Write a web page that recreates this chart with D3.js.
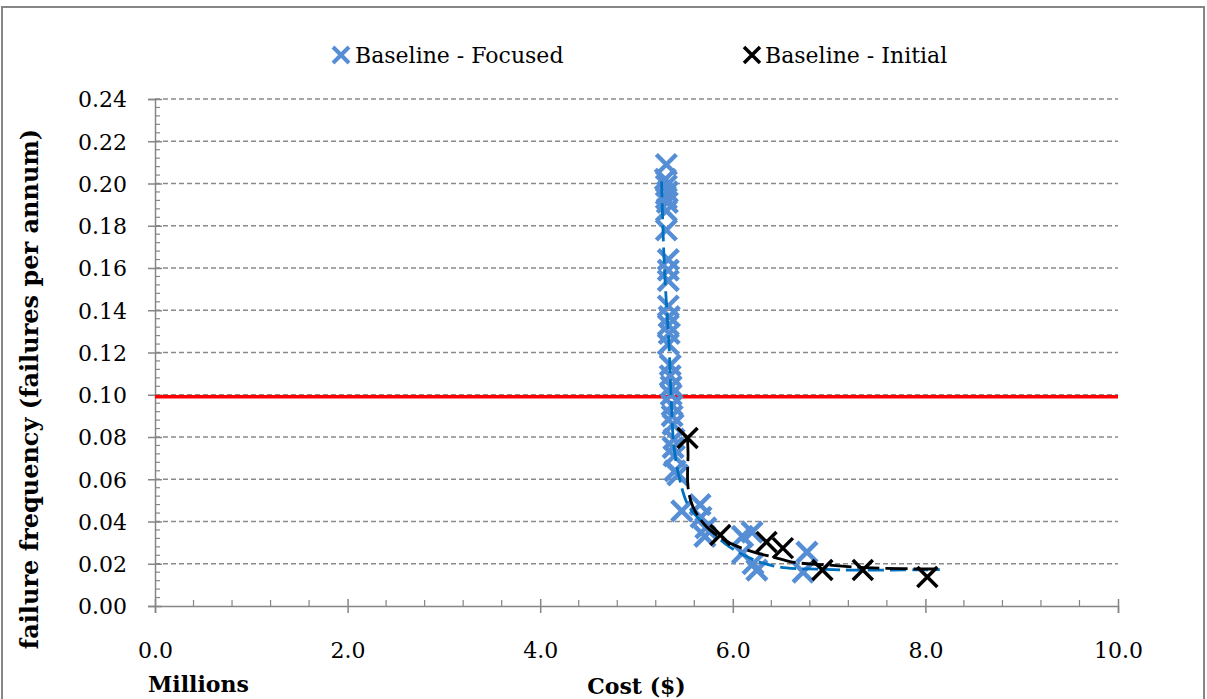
<!DOCTYPE html>
<html>
<head>
<meta charset="utf-8">
<script src="https://cdn.jsdelivr.net/npm/d3@7"></script>
<style>
  html, body { margin: 0; padding: 0; background: #fff; }
  svg { display: block; }
  text { font-family: "DejaVu Serif", "Liberation Serif", serif; fill: #000; }
</style>
</head>
<body>
<svg id="chart" width="1207" height="699"></svg>
<script>
// Cost in millions of dollars, failure frequency in failures per annum
const focusedCost = [5.31, 5.30, 5.31, 5.32, 5.31, 5.32, 5.31, 5.31, 5.33, 5.33, 5.33,
  5.33, 5.34, 5.33, 5.34, 5.33, 5.35, 5.35, 5.36, 5.36, 5.37, 5.37, 5.38, 5.39, 5.38,
  5.39, 5.40, 5.43, 5.47, 5.66, 5.67, 5.72, 5.71, 6.10, 6.20, 6.10, 6.21, 6.25, 6.77, 6.73];
const focusedFreq = [0.209, 0.202, 0.199, 0.196, 0.193, 0.191, 0.187, 0.178, 0.164, 0.159, 0.154,
  0.142, 0.137, 0.133, 0.129, 0.124, 0.114, 0.109, 0.104, 0.100, 0.095, 0.090, 0.086, 0.079, 0.075,
  0.071, 0.064, 0.062, 0.045, 0.048, 0.042, 0.037, 0.033, 0.033, 0.035, 0.025, 0.020, 0.017, 0.0255, 0.016];

const initialCost = [5.53, 5.87, 6.35, 6.52, 6.93, 7.35, 8.02];
const initialFreq = [0.0795, 0.0336, 0.0303, 0.0274, 0.0170, 0.0170, 0.0137];

// Fitted trend curves for each series
const focusedTrendCost = [5.26, 5.29, 5.34, 5.36, 5.39, 5.45, 5.535, 5.66, 5.97, 6.28, 6.56, 6.87, 7.22, 8.15];
const focusedTrendFreq = [0.201, 0.160, 0.121, 0.098, 0.075, 0.0596, 0.0478, 0.0407, 0.0279, 0.0208, 0.0180, 0.0175, 0.0170, 0.0172];
const initialTrendCost = [5.53, 5.535, 5.535, 5.587, 5.73, 5.97, 6.21, 6.42, 6.62, 6.98, 7.46, 8.15];
const initialTrendFreq = [0.079, 0.0724, 0.0563, 0.0469, 0.0374, 0.0298, 0.0256, 0.0232, 0.0208, 0.0194, 0.0180, 0.0175];

const targetFreq = 0.099;

const xTicks = [0, 2, 4, 6, 8, 10];
const yTicks = [0, 0.02, 0.04, 0.06, 0.08, 0.10, 0.12, 0.14, 0.16, 0.18, 0.20, 0.22, 0.24];

const seriesNames = ["Baseline - Focused", "Baseline - Initial"];
const xTitle = "Cost ($)";
const xUnit = "Millions";
const yTitle = "failure frequency (failures per annum)";

const svg = d3.select("#chart");
const W = 1207, H = 699;
const plotLeft = 155, plotRight = 1118, plotTop = 99, plotBottom = 606;

const x = d3.scaleLinear().domain([0, 10]).range([plotLeft, plotRight]);
const y = d3.scaleLinear().domain([0, 0.24]).range([plotBottom, plotTop]);

const gridColor = "#8a8a8a";
const axisColor = "#868686";
const blue = "#558ED5";
const trendBlue = "#0070C0";
const fontSize = 22;

// outer frame
svg.append("rect").attr("x", 2).attr("y", 7).attr("width", W - 5).attr("height", H)
  .attr("fill", "none").attr("stroke", axisColor).attr("stroke-width", 2);

// horizontal gridlines
svg.append("g").selectAll("line").data(yTicks.filter(d => d > 0)).join("line")
  .attr("x1", plotLeft).attr("x2", plotRight)
  .attr("y1", d => y(d)).attr("y2", d => y(d))
  .attr("stroke", gridColor).attr("stroke-width", 1.5).attr("stroke-dasharray", "5,3");

// y axis
const yAxis = svg.append("g").attr("transform", `translate(${plotLeft},0)`)
  .call(d3.axisLeft(y).tickValues(yTicks).tickFormat(d3.format(".2f")).tickSize(7).tickPadding(21));
yAxis.select(".domain").attr("stroke", axisColor).attr("stroke-width", 1.5);
yAxis.selectAll(".tick line").attr("stroke", axisColor).attr("stroke-width", 1.5).attr("x2", -7).attr("x1", 7);
yAxis.selectAll(".tick text").attr("font-size", fontSize).attr("font-family", "DejaVu Serif").attr("dy", "0.36em");

// y minor ticks
const yMinor = d3.range(0, 0.2401, 0.004).filter(v => Math.abs(v / 0.02 - Math.round(v / 0.02)) > 1e-6);
svg.append("g").selectAll("line").data(yMinor).join("line")
  .attr("x1", plotLeft).attr("x2", plotLeft + 5)
  .attr("y1", d => y(d)).attr("y2", d => y(d))
  .attr("stroke", axisColor).attr("stroke-width", 1.2);

// x axis
const xAxis = svg.append("g").attr("transform", `translate(0,${plotBottom})`)
  .call(d3.axisBottom(x).tickValues(xTicks).tickFormat(d3.format(".1f")).tickSize(7).tickPadding(29));
xAxis.select(".domain").attr("stroke", axisColor).attr("stroke-width", 1.5);
xAxis.selectAll(".tick line").attr("stroke", axisColor).attr("stroke-width", 1.5).attr("y1", -7).attr("y2", 7);
xAxis.selectAll(".tick text").attr("font-size", fontSize).attr("font-family", "DejaVu Serif");

// x minor ticks
const xMinor = d3.range(0, 10.001, 0.4).filter(v => Math.abs(v / 2 - Math.round(v / 2)) > 1e-6);
svg.append("g").selectAll("line").data(xMinor).join("line")
  .attr("x1", d => x(d)).attr("x2", d => x(d))
  .attr("y1", plotBottom).attr("y2", plotBottom - 6)
  .attr("stroke", axisColor).attr("stroke-width", 1.2);

// target frequency line
svg.append("line")
  .attr("x1", x(0)).attr("x2", x(10))
  .attr("y1", y(targetFreq)).attr("y2", y(targetFreq))
  .attr("stroke", "#FF0000").attr("stroke-width", 3.5);

// X-shaped marker
function cross(g, cx, cy, r, color, w) {
  g.append("path")
    .attr("d", `M${cx - r},${cy - r}L${cx + r},${cy + r}M${cx - r},${cy + r}L${cx + r},${cy - r}`)
    .attr("stroke", color).attr("stroke-width", w).attr("fill", "none");
}

const focused = focusedCost.map((c, i) => ({ c, f: focusedFreq[i] }));
const initial = initialCost.map((c, i) => ({ c, f: initialFreq[i] }));

const gBlue = svg.append("g");
focused.forEach(d => cross(gBlue, x(d.c), y(d.f), 10, blue, 4.5));

const trendLine = d3.line().x(d => x(d[0])).y(d => y(d[1])).curve(d3.curveCatmullRom);

svg.append("path")
  .datum(focusedTrendCost.map((c, i) => [c, focusedTrendFreq[i]]))
  .attr("d", trendLine)
  .attr("fill", "none").attr("stroke", trendBlue).attr("stroke-width", 2.8)
  .attr("stroke-dasharray", "16,6");

const gBlack = svg.append("g");
initial.forEach(d => cross(gBlack, x(d.c), y(d.f), 10, "#000", 3.5));

svg.append("path")
  .datum(initialTrendCost.map((c, i) => [c, initialTrendFreq[i]]))
  .attr("d", trendLine)
  .attr("fill", "none").attr("stroke", "#000").attr("stroke-width", 2.8)
  .attr("stroke-dasharray", "22,6");

// legend
const legend = svg.append("g");
const legendItems = [
  { name: seriesNames[0], color: blue, w: 4, mx: 341, tx: 355 },
  { name: seriesNames[1], color: "#000", w: 3.5, mx: 752, tx: 765 }
];
legendItems.forEach(it => {
  cross(legend, it.mx, 55, 8, it.color, it.w);
  legend.append("text").attr("x", it.tx).attr("y", 63).attr("font-size", fontSize).text(it.name);
});

// axis titles
svg.append("text").attr("x", (plotLeft + plotRight) / 2).attr("y", 694)
  .attr("text-anchor", "middle").attr("font-size", fontSize).attr("font-weight", "bold").text(xTitle);
svg.append("text").attr("x", 148).attr("y", 692)
  .attr("font-size", fontSize).attr("font-weight", "bold").text(xUnit);
svg.append("text")
  .attr("transform", `translate(38,389) rotate(-90)`)
  .attr("text-anchor", "middle").attr("font-size", 24).attr("font-weight", "bold").text(yTitle);
</script>
</body>
</html>
